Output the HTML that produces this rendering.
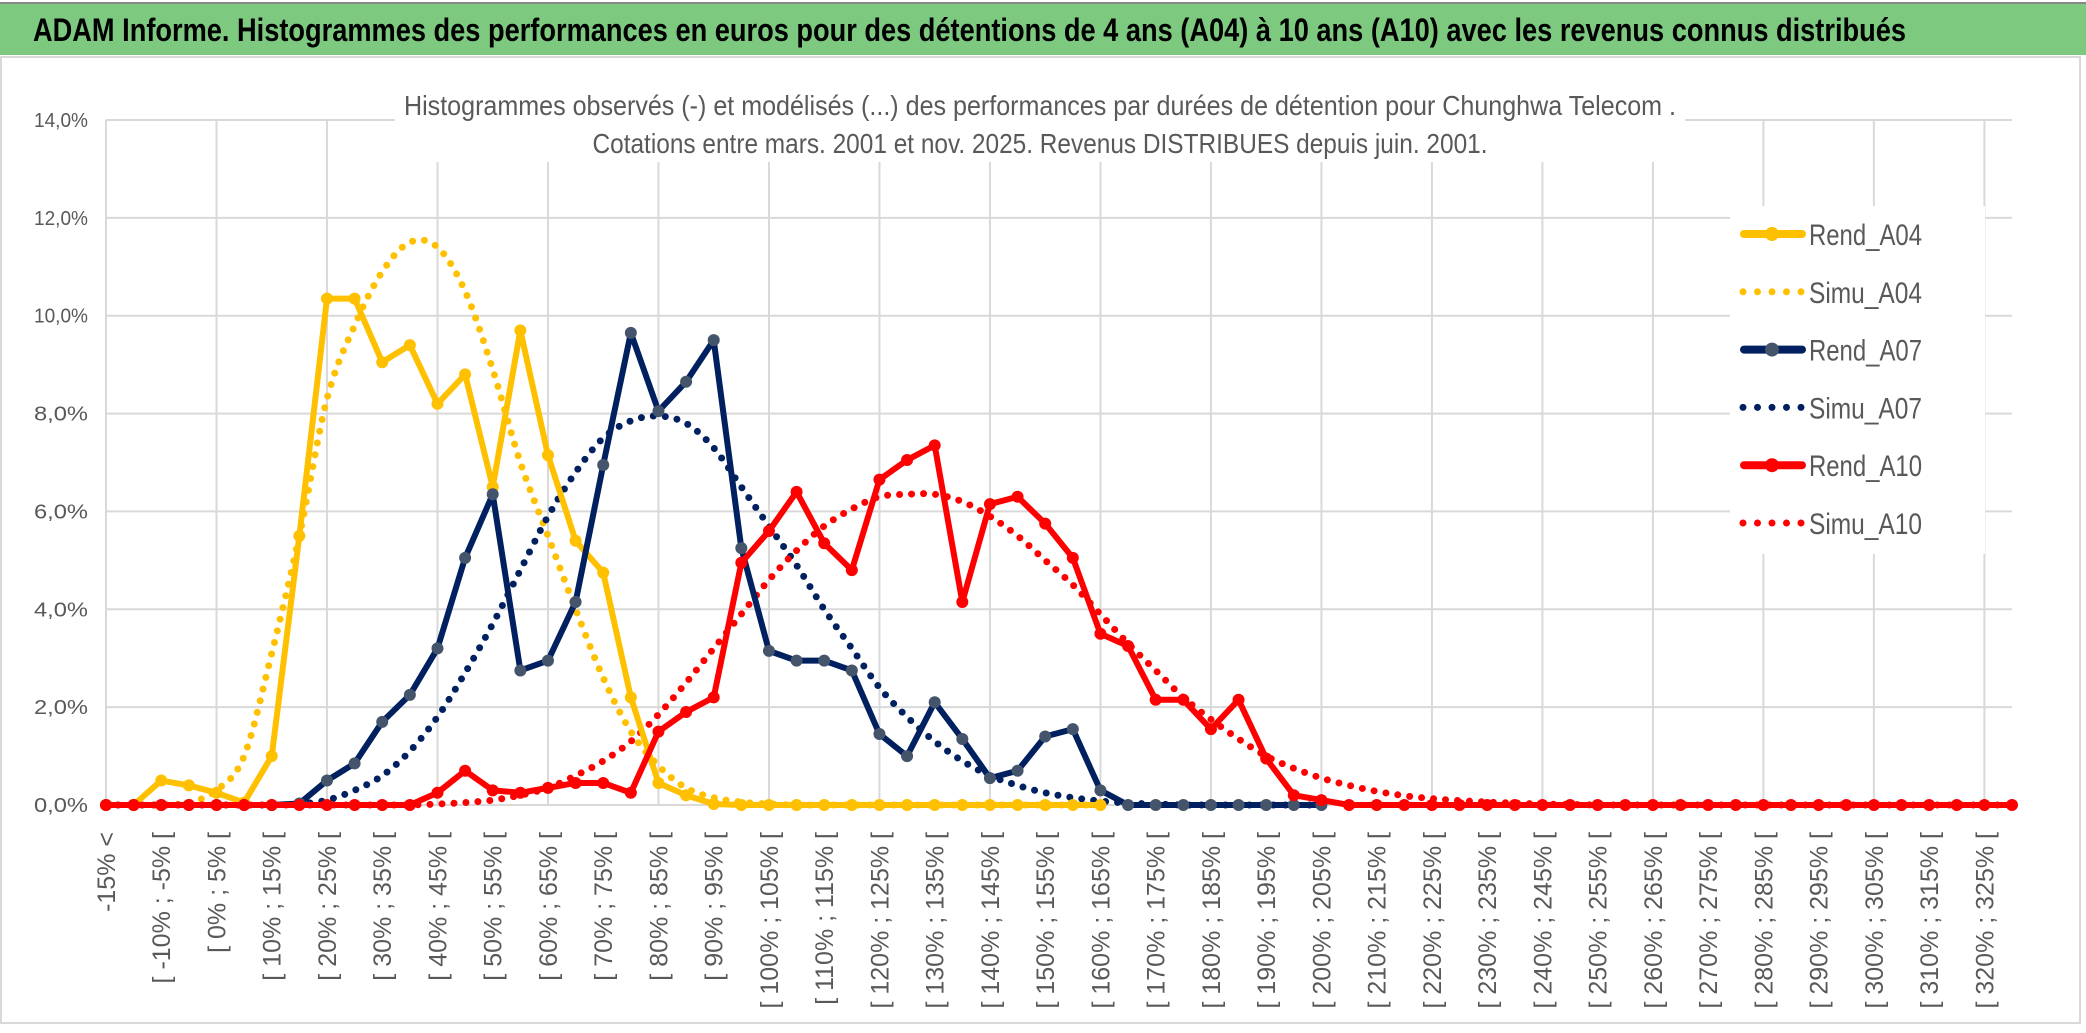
<!DOCTYPE html>
<html><head><meta charset="utf-8">
<style>
html,body{margin:0;padding:0;background:#fff;}
body{width:2086px;height:1033px;overflow:hidden;position:relative;font-family:"Liberation Sans",sans-serif;}
#bar{position:absolute;left:0;top:2px;width:2086px;height:51px;background:#7dc97f;border-top:2px solid #888;}
</style></head><body>
<div id="bar"></div>
<svg id="chart" width="2086" height="1033" style="position:absolute;left:0;top:0">
<text x="33" y="41" font-size="32" font-weight="bold" fill="#000" textLength="1873" lengthAdjust="spacingAndGlyphs">ADAM Informe. Histogrammes des performances en euros pour des détentions de 4 ans (A04) à 10 ans (A10) avec les revenus connus distribués</text>
</svg>
<script>
const rendA04=[0,0,0.5,0.4,0.25,0.05,1.0,5.5,10.35,10.35,9.05,9.4,8.2,8.8,6.5,9.7,7.15,5.4,4.75,2.2,0.45,0.2,0.02,0,0,0,0,0,0,0,0,0,0,0,0,0,0];
const simuA04=[0,0,0,0.05,0.3,1.0,3.1,5.5,8.3,9.8,10.9,11.5,11.4,10.5,8.9,7.0,5.5,4.0,2.6,1.5,0.8,0.35,0.15,0.06,0.02,0,0,0,0,0,0,0,0,0,0,0,0];
const rendA07=[0,0,0,0,0,0,0,0.03,0.5,0.85,1.7,2.25,3.2,5.05,6.35,2.75,2.95,4.15,6.95,9.65,8.05,8.65,9.5,5.25,3.15,2.95,2.95,2.75,1.45,1.0,2.1,1.35,0.55,0.7,1.4,1.55,0.3,0,0,0,0,0,0,0,0];
const simuA07=[0,0,0,0,0,0,0,0.02,0.1,0.3,0.6,1.1,1.8,2.7,3.7,4.8,5.9,6.8,7.5,7.85,7.95,7.8,7.3,6.5,5.7,4.9,4.0,3.2,2.4,1.8,1.3,0.9,0.6,0.4,0.25,0.15,0.08,0.04,0.02,0,0,0,0,0,0];
const rendA10=[0,0,0,0,0,0,0,0,0,0,0,0,0.25,0.7,0.3,0.25,0.35,0.45,0.45,0.25,1.5,1.9,2.2,4.95,5.6,6.4,5.35,4.8,6.65,7.05,7.35,4.15,6.15,6.3,5.75,5.05,3.5,3.25,2.15,2.15,1.55,2.15,0.95,0.2,0.1,0,0,0,0,0,0,0,0,0,0,0,0,0,0,0,0,0,0,0,0,0,0,0,0,0];
const simuA10=[0,0,0,0,0,0,0,0,0,0,0,0,0.02,0.05,0.1,0.2,0.35,0.6,0.9,1.3,1.85,2.5,3.2,3.9,4.6,5.2,5.7,6.05,6.3,6.35,6.35,6.2,5.9,5.5,5.0,4.5,3.9,3.3,2.75,2.2,1.75,1.35,1.0,0.75,0.55,0.4,0.28,0.19,0.13,0.09,0.06,0.04,0.02,0.01,0,0,0,0,0,0,0,0,0,0,0,0,0,0,0,0];
const yTicks=[0,2,4,6,8,10,12,14];
const nCat=70;
const catLabels=[];
catLabels.push('-15% <');
for(let k=1;k<nCat;k++){const lo=-15+5*(k-1);catLabels.push('[ '+lo+'% ; '+(lo+5)+'% [');}

const X0=106,X1=2012,Y0=805,YT=120;
const xs=i=>X0+i*(X1-X0)/(nCat-1);
const ys=v=>Y0-v*(Y0-YT)/14;
const NS='http://www.w3.org/2000/svg';
const svg=document.getElementById('chart');
const titleEl=svg.firstElementChild;
function mk(tag,attrs,parent){const e=document.createElementNS(NS,tag);for(const k in attrs)e.setAttribute(k,attrs[k]);(parent||svg).appendChild(e);return e;}

const frame=mk('rect',{x:1,y:57,width:2079,height:966,fill:'#fff',stroke:'#d9d9d9','stroke-width':2});



for(let i=0;i<nCat;i+=4){
  const g=mk('line',{x1:xs(i),x2:xs(i),y1:YT,y2:Y0,stroke:'#d9d9d9','stroke-width':2});
  
  
}
yTicks.forEach(t=>{
  const g=mk('line',{x1:X0,x2:X1,y1:ys(t),y2:ys(t),stroke:'#d9d9d9','stroke-width':2});
  
  
  const tx=mk('text',{x:88,y:ys(t)+7,'text-anchor':'end','font-size':20,fill:'#595959',textLength:54,lengthAdjust:'spacingAndGlyphs'});
  tx.textContent=t.toFixed(1).replace('.',',')+'%';
  
  
});
for(let i=0;i<nCat;i+=2){
  const x=xs(i)+9;
  const tx=mk('text',{x:0,y:0,'text-anchor':'end','font-size':25,fill:'#595959',transform:`translate(${x},832) rotate(-90)`});
  tx.textContent=catLabels[i];
  
  
}
const sb=mk('rect',{x:395,y:82,width:1290,height:80,fill:'#fff'});


const s1=mk('text',{x:1040,y:115,'text-anchor':'middle','font-size':28,fill:'#595959',textLength:1272,lengthAdjust:'spacingAndGlyphs'});
s1.textContent='Histogrammes observés (-) et modélisés (...) des performances par durées de détention pour Chunghwa Telecom .';


const s2=mk('text',{x:1040,y:153,'text-anchor':'middle','font-size':28,fill:'#595959',textLength:895,lengthAdjust:'spacingAndGlyphs'});
s2.textContent='Cotations entre mars. 2001 et nov. 2025. Revenus DISTRIBUES depuis juin. 2001.';



function smoothPath(pts){
  let d='M'+pts[0][0]+','+pts[0][1];
  for(let i=0;i<pts.length-1;i++){
    const p0=pts[i-1]||pts[i],p1=pts[i],p2=pts[i+1],p3=pts[i+2]||p2;
    const c1=[p1[0]+(p2[0]-p0[0])/6,p1[1]+(p2[1]-p0[1])/6];
    const c2=[p2[0]-(p3[0]-p1[0])/6,p2[1]-(p3[1]-p1[1])/6];
    d+=` C${c1[0]},${c1[1]} ${c2[0]},${c2[1]} ${p2[0]},${p2[1]}`;
  }
  return d;
}
function dotted(data,color,name){
  const pts=data.map((v,i)=>[xs(i),ys(v)]);
  const p=mk('path',{d:smoothPath(pts),fill:'none',stroke:color,'stroke-width':7,'stroke-linecap':'round','stroke-dasharray':'0 12'});
  
  
}
function solid(data,color,mcolor,name){
  const pts=data.map((v,i)=>xs(i)+','+ys(v)).join(' ');
  const p=mk('polyline',{points:pts,fill:'none',stroke:color,'stroke-width':6,'stroke-linejoin':'round'});
  
  
  data.forEach((v,i)=>{
    const c=mk('circle',{cx:xs(i),cy:ys(v),r:6,fill:mcolor});
    
    
  });
}
dotted(simuA04,'#ffc000','simu-a04-line');
dotted(simuA07,'#002060','simu-a07-line');
dotted(simuA10,'#ff0000','simu-a10-line');
solid(rendA04,'#ffc000','#ffc000','rend-a04-line');
solid(rendA07,'#002060','#44546a','rend-a07-line');
solid(rendA10,'#ff0000','#ff0000','rend-a10-line');

const lb=mk('rect',{x:1730,y:206,width:255,height:348,fill:'#fff'});


const leg=[['Rend_A04','#ffc000','#ffc000',false],['Simu_A04','#ffc000',null,true],['Rend_A07','#002060','#44546a',false],['Simu_A07','#002060',null,true],['Rend_A10','#ff0000','#ff0000',false],['Simu_A10','#ff0000',null,true]];
leg.forEach((e,i)=>{
  const y=234+i*57.8;
  const g=mk('g',{});
  
  
  if(e[3]){
    mk('line',{x1:1743,x2:1802,y1:y,y2:y,stroke:e[1],'stroke-width':7,'stroke-linecap':'round','stroke-dasharray':'0 14.5'},g);
  } else {
    mk('line',{x1:1744,x2:1802,y1:y,y2:y,stroke:e[1],'stroke-width':8,'stroke-linecap':'round'},g);
    mk('circle',{cx:1772,cy:y,r:7,fill:e[2]},g);
  }
  const t=mk('text',{x:1809,y:y+11,'font-size':30,fill:'#595959',textLength:113,lengthAdjust:'spacingAndGlyphs'},g);
  t.textContent=e[0];
});
svg.appendChild(titleEl);
</script>
</body></html>
